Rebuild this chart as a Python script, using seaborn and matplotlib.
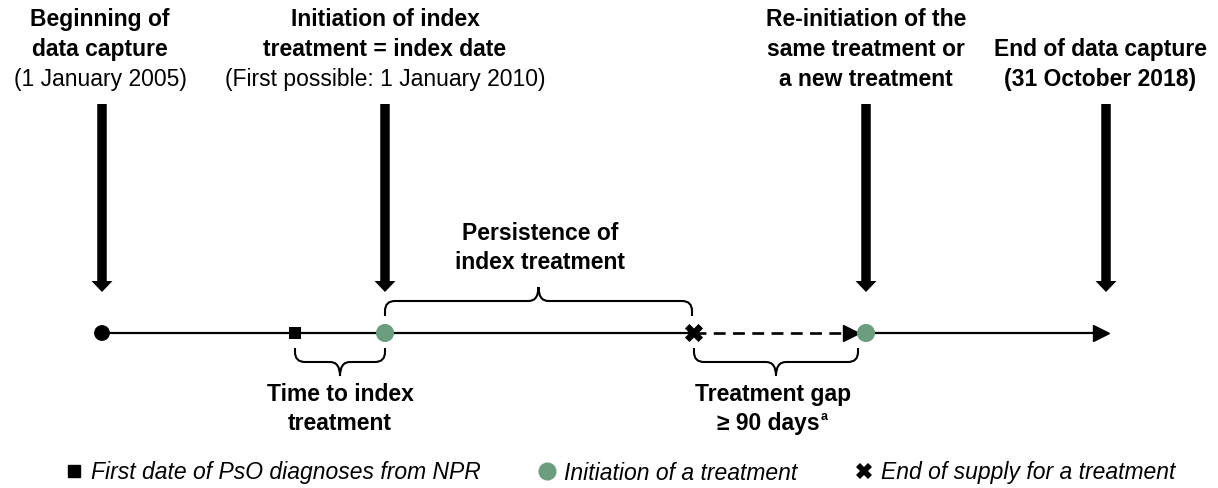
import numpy as np
import pandas as pd
import matplotlib
matplotlib.use("Agg")
import matplotlib.pyplot as plt
from matplotlib.path import Path
from matplotlib.patches import PathPatch
from matplotlib.lines import Line2D
import seaborn as sns

# -------------------------------
# Data (diagram positions along the timeline, pixel-like units)
# -------------------------------
ARROW_X = [102, 385, 866, 1106]
ARROW_TOP = 104
ARROW_TIP = 292
TIMELINE_Y = 333

EVENT_X = [102, 295, 385, 694, 866]
EVENT_KIND = ["start", "diagnosis", "initiation", "end_supply", "initiation"]

SOLID_SEGMENTS = [(102, 694), (866, 1107)]
DASHED_SEGMENT = (694, 857)

TOP_LABEL_X = [100, 385, 866, 1100]
TOP_LABELS = [
    [("Beginning of", "bold"), ("data capture", "bold"), ("(1 January 2005)", "normal")],
    [("Initiation of index", "bold"), ("treatment = index date", "bold"),
     ("(First possible: 1 January 2010)", "normal")],
    [("Re-initiation of the", "bold"), ("same treatment or", "bold"), ("a new treatment", "bold")],
    [("End of data capture", "bold"), ("(31 October 2018)", "bold")],
]

# braces: (x0, x1, side)
BRACES = [(385, 692, "up"), (295, 385, "down"), (694, 858, "down")]
BRACE_LABELS = [
    (540, [240, 269], ["Persistence of", "index treatment"]),
    (340, [401, 430], ["Time to index", "treatment"]),
    (773, [401, 430], ["Treatment gap", "\u2265 90 days"]),
]

LEGEND_LABELS = ["First date of PsO diagnoses from NPR",
                 "Initiation of a treatment",
                 "End of supply for a treatment"]

GREEN = "#6b9e7f"
FS = 16.5

# -------------------------------
# Figure setup
# -------------------------------
sns.set_theme(style="white")
plt.rcParams["font.family"] = ["Liberation Sans", "DejaVu Sans"]
plt.rcParams["text.color"] = "black"

fig = plt.figure(figsize=(12.18, 4.88), dpi=100)
ax = fig.add_axes([0, 0, 1, 1])
ax.set_xlim(0, 1218)
ax.set_ylim(488, 0)
ax.axis("off")

# -------------------------------
# Timeline
# -------------------------------
for x0, x1 in SOLID_SEGMENTS:
    ax.plot([x0, x1], [TIMELINE_Y, TIMELINE_Y], color="black", lw=1.6,
            solid_capstyle="butt", zorder=1)
ax.plot(list(DASHED_SEGMENT), [TIMELINE_Y, TIMELINE_Y], color="black", lw=1.9,
        linestyle=(0, (4.5, 2.8)), zorder=1)
# small arrow heads
ax.plot([DASHED_SEGMENT[1] - 6, SOLID_SEGMENTS[1][1] - 6], [TIMELINE_Y, TIMELINE_Y],
        linestyle="none", marker=">", markersize=11, color="black", zorder=2)

# -------------------------------
# Event markers
# -------------------------------
events = pd.DataFrame({"x": EVENT_X, "y": TIMELINE_Y, "kind": EVENT_KIND})
marker_style = {
    "start": dict(marker="o", s=130, color="black"),
    "diagnosis": dict(marker="s", s=80, color="black"),
    "initiation": dict(marker="o", s=170, color=GREEN),
    "end_supply": dict(marker="X", s=170, color="black"),
}
for kind, sub in events.groupby("kind"):
    st = marker_style[kind]
    sns.scatterplot(data=sub, x="x", y="y", marker=st["marker"], s=st["s"],
                    color=st["color"], edgecolor="none", linewidth=0, ax=ax,
                    zorder=3, legend=False)

# -------------------------------
# Vertical arrows
# -------------------------------
for x in ARROW_X:
    ax.arrow(x, ARROW_TOP, 0, ARROW_TIP - ARROW_TOP, width=9.5, head_width=21,
             head_length=11, length_includes_head=True, color="black", lw=0)

# -------------------------------
# Top labels
# -------------------------------
for x, lines in zip(TOP_LABEL_X, TOP_LABELS):
    base = [26, 56, 86][3 - len(lines):]
    for (txt, weight), y in zip(lines, base):
        ax.text(x, y, txt, ha="center", va="baseline", fontsize=FS,
                fontweight=weight, color="black")


# -------------------------------
# Curly braces
# -------------------------------
def brace(ax, x0, x1, side, r=10):
    if side == "up":
        y_end, y_mid, y_tip = 316, 301, 287
    else:
        y_end, y_mid, y_tip = 348, 362, 376
    s = 1 if y_end > y_mid else -1
    xm = (x0 + x1) / 2
    verts = [(x0, y_end), (x0, y_mid + s * r), (x0, y_mid), (x0 + r, y_mid),
             (xm - r, y_mid), (xm, y_mid), (xm, y_tip),
             (xm, y_mid), (xm + r, y_mid),
             (x1 - r, y_mid), (x1, y_mid), (x1, y_mid + s * r), (x1, y_end)]
    codes = [Path.MOVETO, Path.LINETO, Path.CURVE3, Path.CURVE3,
             Path.LINETO, Path.CURVE3, Path.CURVE3,
             Path.CURVE3, Path.CURVE3,
             Path.LINETO, Path.CURVE3, Path.CURVE3, Path.LINETO]
    ax.add_patch(PathPatch(Path(verts, codes), facecolor="none",
                           edgecolor="black", lw=1.5))


for x0, x1, side in BRACES:
    brace(ax, x0, x1, side)

gap_text = None
for x, ys, lines in BRACE_LABELS:
    for y, txt in zip(ys, lines):
        t = ax.text(x if not txt.startswith("\u2265") else x - 5, y, txt,
                    ha="center", va="baseline", fontsize=FS, fontweight="bold",
                    color="black")
        if txt.startswith("\u2265"):
            gap_text = t

# superscript "a"
fig.canvas.draw()
bb = gap_text.get_window_extent()
x_end = ax.transData.inverted().transform((bb.x1, bb.y0))[0]
ax.text(x_end + 1.5, 420, "a", ha="left", va="baseline", fontsize=9,
        fontweight="bold", color="black")

# -------------------------------
# Legend
# -------------------------------
handles = [
    Line2D([], [], linestyle="none", marker="s", markersize=8, color="black"),
    Line2D([], [], linestyle="none", marker="o", markersize=12, color=GREEN),
    Line2D([], [], linestyle="none", marker="X", markersize=11, color="black",
           markeredgewidth=0),
]
leg = ax.legend(handles, LEGEND_LABELS, ncol=3, loc="center",
                bbox_to_anchor=(620, 473), bbox_transform=ax.transData,
                frameon=False,
                prop=dict(family=["Liberation Sans"], style="italic", size=FS),
                handlelength=0.8, handletextpad=0.35, columnspacing=2.5,
                borderpad=0, borderaxespad=0)
for t in leg.get_texts():
    t.set_color("black")

fig.savefig("out.png", dpi=100)
